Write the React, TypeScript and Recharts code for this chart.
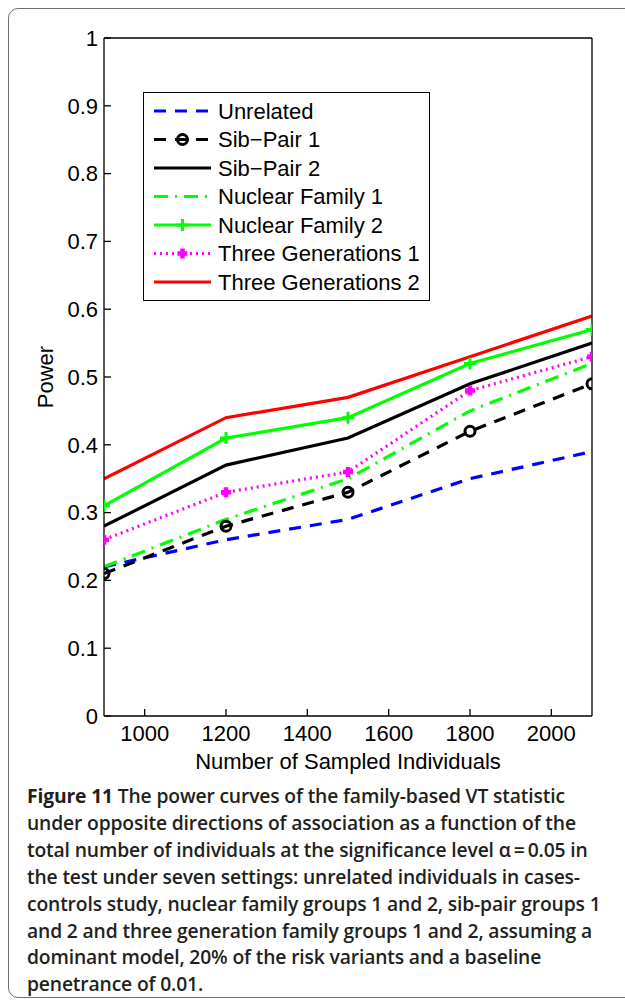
import React from 'react';
import { LineChart, Line, XAxis, YAxis, Legend, Label } from 'recharts';

// Sample sizes on the horizontal axis
const sampleSizes = [900, 1200, 1500, 1800, 2100];

// Power for each study design
const unrelated = [0.22, 0.26, 0.29, 0.35, 0.39];
const sibPair1 = [0.21, 0.28, 0.33, 0.42, 0.49];
const sibPair2 = [0.28, 0.37, 0.41, 0.49, 0.55];
const nuclearFamily1 = [0.22, 0.29, 0.35, 0.45, 0.52];
const nuclearFamily2 = [0.31, 0.41, 0.44, 0.52, 0.57];
const threeGenerations1 = [0.26, 0.33, 0.36, 0.48, 0.53];
const threeGenerations2 = [0.35, 0.44, 0.47, 0.53, 0.59];

// Axis ticks
const xTicks = [1000, 1200, 1400, 1600, 1800, 2000];
const yTicks = [0, 0.1, 0.2, 0.3, 0.4, 0.5, 0.6, 0.7, 0.8, 0.9, 1];

const chartData = sampleSizes.map((n, i) => ({
  n,
  unrelated: unrelated[i],
  sibPair1: sibPair1[i],
  sibPair2: sibPair2[i],
  nuclearFamily1: nuclearFamily1[i],
  nuclearFamily2: nuclearFamily2[i],
  threeGenerations1: threeGenerations1[i],
  threeGenerations2: threeGenerations2[i],
}));

type MarkerKind = 'none' | 'circle' | 'plus' | 'boldPlus';

interface SeriesStyle {
  key: string;
  name: string;
  color: string;
  dash?: string;
  marker: MarkerKind;
}

const seriesStyles: SeriesStyle[] = [
  { key: 'unrelated', name: 'Unrelated', color: '#0000ff', dash: '12 9', marker: 'none' },
  { key: 'sibPair1', name: 'Sib\u2212Pair 1', color: '#000000', dash: '12 9', marker: 'circle' },
  { key: 'sibPair2', name: 'Sib\u2212Pair 2', color: '#000000', marker: 'none' },
  { key: 'nuclearFamily1', name: 'Nuclear Family 1', color: '#00ff00', dash: '14 7 2 7', marker: 'none' },
  { key: 'nuclearFamily2', name: 'Nuclear Family 2', color: '#00ff00', marker: 'plus' },
  { key: 'threeGenerations1', name: 'Three Generations 1', color: '#ff00ff', dash: '2 4', marker: 'boldPlus' },
  { key: 'threeGenerations2', name: 'Three Generations 2', color: '#ff0000', marker: 'none' },
];

const FONT = '"Liberation Sans", Arial, Helvetica, sans-serif';
const LINE_WIDTH = 3.2;
const AXIS_STROKE = { stroke: '#000', strokeWidth: 1.3 };

function Marker({ kind, cx, cy, color }: { kind: MarkerKind; cx: number; cy: number; color: string }) {
  if (kind === 'circle') {
    return <circle cx={cx} cy={cy} r={5} fill="none" stroke={color} strokeWidth={3} />;
  }
  if (kind === 'plus' || kind === 'boldPlus') {
    const h = kind === 'plus' ? 6 : 5;
    return (
      <path
        d={`M${cx - h},${cy}H${cx + h}M${cx},${cy - h}V${cy + h}`}
        stroke={color}
        strokeWidth={kind === 'plus' ? 3 : 4.5}
        fill="none"
      />
    );
  }
  return null;
}

// Legend box drawn inside the plot, MATLAB style
function LegendBox() {
  const width = 287;
  const height = 209;
  const rowStart = 19;
  const rowStep = 28.5;
  const x0 = 10;
  const x1 = 67;
  return (
    <div
      style={{
        width,
        height,
        boxSizing: 'border-box',
        border: '1px solid #000',
        background: '#fff',
      }}
    >
      <svg width={width - 2} height={height - 2} style={{ display: 'block' }}>
        {seriesStyles.map((s, i) => {
          const y = rowStart + i * rowStep - 1;
          return (
            <g key={s.key}>
              <line
                x1={x0}
                x2={x1}
                y1={y}
                y2={y}
                stroke={s.color}
                strokeWidth={LINE_WIDTH}
                strokeDasharray={s.dash}
              />
              <Marker kind={s.marker} cx={(x0 + x1) / 2} cy={y} color={s.color} />
              <text x={74} y={y} dy="0.35em" fontFamily={FONT} fontSize={22} fill="#000">
                {s.name}
              </text>
            </g>
          );
        })}
      </svg>
    </div>
  );
}

const formatY = (v: number) => (v === 0 ? '0' : v === 1 ? '1' : v.toFixed(1));

const tickStyle = { fill: '#000', fontSize: 22, fontFamily: FONT };

function PowerChart() {
  return (
    <LineChart
      width={625}
      height={790}
      data={chartData}
      margin={{ top: 37, right: 32, bottom: 0, left: 0 }}
    >
      <XAxis
        dataKey="n"
        type="number"
        domain={[900, 2100]}
        ticks={xTicks}
        allowDataOverflow
        height={74}
        tickSize={-7}
        tickMargin={16}
        tick={tickStyle}
        axisLine={AXIS_STROKE}
        tickLine={AXIS_STROKE}
      >
        <Label
          value="Number of Sampled Individuals"
          position="center"
          dy={8}
          style={{ fontSize: 22, fontFamily: FONT, fill: '#000' }}
        />
      </XAxis>
      <XAxis
        xAxisId="top"
        orientation="top"
        dataKey="n"
        type="number"
        domain={[900, 2100]}
        ticks={xTicks}
        allowDataOverflow
        height={1}
        tickSize={-7}
        tick={false}
        axisLine={AXIS_STROKE}
        tickLine={AXIS_STROKE}
      />
      <YAxis
        type="number"
        domain={[0, 1]}
        ticks={yTicks}
        width={104}
        tickSize={-7}
        tickMargin={13}
        tickFormatter={formatY}
        tick={tickStyle}
        axisLine={AXIS_STROKE}
        tickLine={AXIS_STROKE}
      >
        <Label
          value="Power"
          angle={-90}
          position="center"
          dx={-7}
          style={{ fontSize: 22, fontFamily: FONT, fill: '#000', textAnchor: 'middle' }}
        />
      </YAxis>
      <YAxis
        yAxisId="right"
        orientation="right"
        type="number"
        domain={[0, 1]}
        ticks={yTicks}
        width={1}
        tickSize={-7}
        tick={false}
        axisLine={AXIS_STROKE}
        tickLine={AXIS_STROKE}
      />
      <Legend
        layout="vertical"
        align="center"
        verticalAlign="middle"
        content={() => <LegendBox />}
        wrapperStyle={{ left: 143, top: 92, width: 287, height: 209 }}
      />
      {seriesStyles.map((s) => (
        <Line
          key={s.key}
          dataKey={s.key}
          name={s.name}
          type="linear"
          stroke={s.color}
          strokeWidth={LINE_WIDTH}
          strokeDasharray={s.dash}
          isAnimationActive={false}
          activeDot={false}
          dot={
            s.marker === 'none'
              ? false
              : (p: any) => (
                  <g key={`${s.key}-${p.index}`}>
                    <Marker kind={s.marker} cx={p.cx} cy={p.cy} color={s.color} />
                  </g>
                )
          }
        />
      ))}
    </LineChart>
  );
}

const captionLines: React.ReactNode[] = [
  <>
    <span style={{ fontWeight: 700 }}>Figure 11</span> The power curves of the family-based VT statistic
  </>,
  'under opposite directions of association as a function of the',
  'total number of individuals at the significance level \u03b1\u2009=\u20090.05 in',
  'the test under seven settings: unrelated individuals in cases-',
  'controls study, nuclear family groups 1 and 2, sib-pair groups 1',
  'and 2 and three generation family groups 1 and 2, assuming a',
  'dominant model, 20% of the risk variants and a baseline',
  'penetrance of 0.01.',
];

export default function App() {
  return (
    <div
      style={{
        position: 'fixed',
        left: 0,
        top: 0,
        width: 625,
        height: 1002,
        overflow: 'hidden',
        background: '#fff',
      }}
    >
      <div
        style={{
          position: 'absolute',
          left: 8,
          top: 8,
          width: 650,
          height: 990,
          boxSizing: 'border-box',
          border: '1.5px solid #6e6e6e',
          borderRadius: 10,
        }}
      />
      <div style={{ position: 'absolute', left: 0, top: 0 }}>
        <PowerChart />
      </div>
      <div
        style={{
          position: 'absolute',
          left: 27,
          top: 783,
          width: 600,
          fontFamily: '"Open Sans", "Noto Sans", sans-serif',
          fontWeight: 600,
          fontSize: 19.3,
          lineHeight: '26.9px',
          letterSpacing: -0.15,
          color: '#231f20',
          whiteSpace: 'nowrap',
        }}
      >
        {captionLines.map((l, i) => (
          <div key={i}>{l}</div>
        ))}
      </div>
    </div>
  );
}
